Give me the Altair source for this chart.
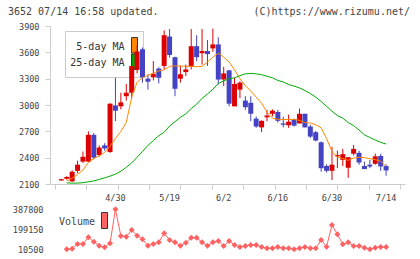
import altair as alt
import numpy as np
import pandas as pd

# ---- daily candles (index 0..60) ----
idx = list(range(61))
opens = [2140, 2160, 2130, 2250, 2355, 2355, 2660, 2430, 2540, 2465,
         2995, 2985, 3100, 3140, 3400, 3635, 3300, 3315, 3415, 3445,
         3780, 3545, 3300, 3375, 3440, 3670, 3590, 3615, 3645, 3690,
         3290, 3395, 2985, 3175, 3050, 3025, 2845, 2745, 2860, 2900,
         2920, 2790, 2770, 2840, 2790, 2900, 2755, 2690, 2575, 2305,
         2250, 2415, 2375, 2285, 2445, 2455, 2305, 2320, 2330, 2420,
         2305]
highs = [2155, 2190, 2255, 2365, 2470, 2700, 2680, 2540, 2565, 3020,
         3310, 3140, 3240, 3445, 3680, 3655, 3350, 3500, 3430, 3850,
         3865, 3550, 3445, 3460, 3865, 3795, 3865, 3740, 3870, 3770,
         3435, 3400, 3310, 3270, 3100, 3100, 2870, 2825, 2945, 2950,
         2945, 2865, 2890, 2845, 2960, 2900, 2775, 2705, 2585, 2325,
         2525, 2480, 2500, 2405, 2545, 2480, 2355, 2375, 2445, 2445,
         2325]
lows = [2140, 2150, 2125, 2225, 2340, 2350, 2380, 2410, 2480, 2455,
        2815, 2950, 3050, 3075, 3360, 3255, 3175, 3280, 3245, 3405,
        3540, 3100, 3255, 3330, 3405, 3500, 3460, 3445, 3605, 3235,
        3215, 2985, 2985, 3080, 2945, 2815, 2740, 2690, 2815, 2870,
        2800, 2745, 2740, 2755, 2790, 2745, 2625, 2585, 2240, 2230,
        2145, 2280, 2305, 2170, 2425, 2320, 2270, 2280, 2320, 2250,
        2195]
closes = [2155, 2180, 2240, 2320, 2410, 2660, 2400, 2515, 2505, 3015,
          2935, 3030, 3140, 3445, 3610, 3315, 3265, 3355, 3310, 3795,
          3570, 3185, 3350, 3405, 3670, 3545, 3615, 3580, 3690, 3290,
          3360, 3015, 3240, 3255, 2975, 2900, 2755, 2820, 2880, 2935,
          2820, 2775, 2810, 2765, 2900, 2745, 2640, 2595, 2280, 2250,
          2320, 2430, 2440, 2405, 2500, 2345, 2270, 2300, 2415, 2300,
          2255]

# ---- moving averages (index 1..60) ----
ma_idx = list(range(1, 61))
ma5 = [2135, 2165, 2210, 2260, 2345, 2390, 2420, 2460, 2530, 2620,
       2700, 2800, 3090, 3260, 3310, 3340, 3360, 3390, 3400, 3440,
       3445, 3445, 3440, 3440, 3436, 3440, 3490, 3545, 3590, 3545,
       3490, 3400, 3300, 3220, 3160, 3090, 3020, 2920, 2850, 2838,
       2835, 2835, 2835, 2825, 2800, 2795, 2776, 2740, 2620, 2470,
       2405, 2390, 2370, 2395, 2405, 2400, 2388, 2378, 2360, 2300]
ma25 = [2113, 2110, 2110, 2115, 2125, 2135, 2152, 2170, 2190, 2212,
        2245, 2290, 2340, 2405, 2470, 2540, 2595, 2650, 2690, 2760,
        2810, 2860, 2900, 2960, 3010, 3075, 3125, 3180, 3245, 3275,
        3298, 3310, 3335, 3355, 3360, 3355, 3345, 3328, 3310, 3280,
        3262, 3234, 3215, 3195, 3165, 3130, 3090, 3040, 2985, 2930,
        2880, 2850, 2800, 2765, 2715, 2660, 2630, 2600, 2575, 2555]

# ---- volume (index 1..60) ----
vol_idx = list(range(1, 61))
volumes = [10500, 16000, 60500, 60500, 124000, 82000, 44500, 29400, 67000, 387800,
           136000, 129300, 192500, 138800, 104800, 44500, 60500, 76500, 161400, 98200,
           76500, 44500, 72800, 120000, 120000, 76500, 44500, 76500, 88800, 41600,
           88800, 51000, 32200, 41600, 51000, 51000, 32200, 20000, 20000, 32200,
           20000, 20000, 10500, 20000, 32200, 20000, 20000, 98200, 35000, 239700,
           152000, 57700, 76500, 41600, 41600, 25600, 10500, 25600, 32200, 32200]

date_idx = [10, 20, 30, 40, 50, 60]
date_labels = ["4/30", "5/19", "6/2", "6/16", "6/30", "7/14"]
price_ticks = [2100, 2400, 2700, 3000, 3300, 3600, 3900]
vol_ticks = [10500, 199150, 387800]

RED = "#dd0000"
BLUE = "#4343c3"
ORANGE = "#ff8800"
GREEN = "#00aa00"
VOLC = "#ff6262"
AXIS = "#cccccc"
TXT = "#444444"
MONO = "DejaVu Sans Mono"

W, H = 355, 158
STEP = 5.57
d0 = -6.5 / STEP
d1 = d0 + W / STEP
x_tick_pos = [float(v) for v in np.linspace(d0, d1, 12)]

x_enc = alt.X(
    "i:Q",
    scale=alt.Scale(domain=[d0, d1], nice=False, zero=False),
    axis=alt.Axis(values=x_tick_pos, labels=False, tickSize=5, tickColor=AXIS,
                  domainColor=AXIS, grid=False, title=None),
)

price_axis = alt.Axis(values=price_ticks, format="d", tickSize=5, tickColor=AXIS,
                      domainColor=AXIS, grid=False, title=None, labelFont=MONO,
                      labelFontSize=8.5, labelColor=TXT, labelPadding=6)
price_scale = alt.Scale(domain=[2100, 3900], nice=False, zero=False)


def py(field):
    return alt.Y(field, type="quantitative", scale=price_scale, axis=price_axis)


candles = pd.DataFrame({"i": idx, "o": opens, "h": highs, "l": lows, "c": closes})
candles["col"] = np.where(candles["c"] >= candles["o"], RED, BLUE)
ma_df = pd.DataFrame({"i": ma_idx, "ma5": ma5, "ma25": ma25})
vol_df = pd.DataFrame({"i": vol_idx, "v": volumes})
date_df = pd.DataFrame({"i": date_idx, "d": date_labels})
one = pd.DataFrame({"k": [0]})

wicks = alt.Chart(candles).mark_rule(strokeWidth=1).encode(
    x=x_enc, y=py("l"), y2="h", color=alt.Color("col:N", scale=None))
bodies = alt.Chart(candles).mark_bar(size=5).encode(
    x=x_enc, y=py("o"), y2="c", color=alt.Color("col:N", scale=None))
line5 = alt.Chart(ma_df).mark_line(color=ORANGE, strokeWidth=1).encode(x=x_enc, y=py("ma5"))
line25 = alt.Chart(ma_df).mark_line(color=GREEN, strokeWidth=1).encode(x=x_enc, y=py("ma25"))

# legend panel for the moving averages
leg_box = alt.Chart(one).mark_rect(fill="white", stroke=AXIS, strokeWidth=1).encode(
    x=alt.value(15.5), x2=alt.value(93.5), y=alt.value(5.5), y2=alt.value(51.5))
sw5 = alt.Chart(one).mark_rect(fill=ORANGE, stroke="#333333", strokeWidth=1).encode(
    x=alt.value(81.5), x2=alt.value(87.5), y=alt.value(11.5), y2=alt.value(27))
sw25 = alt.Chart(one).mark_rect(fill=GREEN, stroke="#333333", strokeWidth=1).encode(
    x=alt.value(81.5), x2=alt.value(87.5), y=alt.value(28), y2=alt.value(43.5))
leg_txt5 = alt.Chart(one).mark_text(align="right", baseline="middle", font=MONO,
                                    fontSize=10, color="#333333").encode(
    x=alt.value(74.5), y=alt.value(20.5), text=alt.value("5-day MA"))
leg_txt25 = alt.Chart(one).mark_text(align="right", baseline="middle", font=MONO,
                                     fontSize=10, color="#333333").encode(
    x=alt.value(74.5), y=alt.value(37.3), text=alt.value("25-day MA"))

head_l = alt.Chart(one).mark_text(align="left", baseline="middle", font=MONO,
                                  fontSize=10, color=TXT).encode(
    x=alt.value(-42), y=alt.value(-14), text=alt.value("3652 07/14 16:58 updated."))
head_r = alt.Chart(one).mark_text(align="right", baseline="middle", font=MONO,
                                  fontSize=10, color=TXT).encode(
    x=alt.value(360), y=alt.value(-14), text=alt.value("(C)https://www.rizumu.net/"))

dates = alt.Chart(date_df).mark_text(baseline="middle", font=MONO, fontSize=8.5,
                                     color=TXT).encode(
    x=x_enc, y=alt.value(171.5), text="d:N")

vol_legend_txt = alt.Chart(one).mark_text(align="left", baseline="middle", font=MONO,
                                          fontSize=10, color=TXT).encode(
    x=alt.value(9), y=alt.value(195.7), text=alt.value("Volume"))
vol_legend_sw = alt.Chart(one).mark_rect(fill=VOLC, stroke="#333333", strokeWidth=1).encode(
    x=alt.value(51.5), x2=alt.value(57.5), y=alt.value(186.5), y2=alt.value(202.5))

price = alt.layer(leg_box, sw5, sw25, leg_txt5, leg_txt25, wicks, bodies,
                  line5, line25, head_l, head_r, dates, vol_legend_txt, vol_legend_sw)

vy = alt.Y("v:Q",
           scale=alt.Scale(domain=[10500, 387800], range=[223.3, 183.3], nice=False, zero=False),
           axis=alt.Axis(values=vol_ticks, format="d", ticks=False, tickSize=0, domain=False,
                         grid=False, orient="left", title=None, labelFont=MONO,
                         labelFontSize=8.5, labelColor=TXT, labelPadding=7))
vol_line = alt.Chart(vol_df).mark_line(color=VOLC, strokeWidth=1).encode(x=x_enc, y=vy)
vol_pts = alt.Chart(vol_df).mark_point(shape="diamond", filled=True, size=36,
                                       opacity=1, color=VOLC).encode(x=x_enc, y=vy)
volume = alt.layer(vol_line, vol_pts)

chart = alt.layer(price, volume).resolve_scale(y="independent").properties(
    width=W, height=H,
    autosize=alt.AutoSizeParams(type="none"),
    padding={"left": 50, "top": 26, "right": 15, "bottom": 75},
).configure_view(strokeWidth=0)

chart.save("out.html", embed_options={"renderer": "svg", "actions": False})
